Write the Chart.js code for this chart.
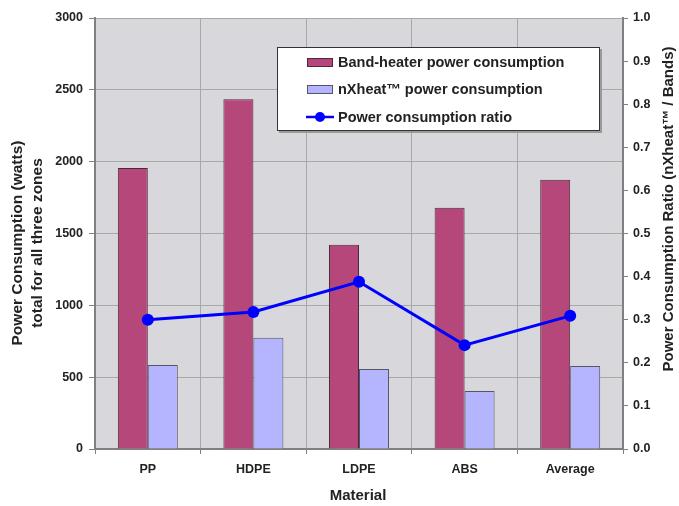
<!DOCTYPE html>
<html>
<head>
<meta charset="utf-8">
<style>
    html, body { margin: 0; padding: 0; background: #ffffff; }
    #wrap { width: 679px; height: 506px; position: relative; }
</style>
<script src="https://cdn.jsdelivr.net/npm/chart.js@4/dist/chart.umd.min.js"></script>
</head>
<body>
<div id="wrap"><canvas id="powerChart" width="679" height="506"></canvas></div>
<script>
const materials = ['PP', 'HDPE', 'LDPE', 'ABS', 'Average'];
const bandHeaterWatts = [1956, 2435, 1422, 1679, 1874];
const nxheatWatts = [585, 775, 557, 403, 578];
const powerRatio = [0.30, 0.318, 0.388, 0.241, 0.309];

const seriesNames = ['Band-heater power consumption', 'nXheat\u2122 power consumption', 'Power consumption ratio'];
const leftTitle = ['Power Consumption (watts)', 'total for all three zones'];
const rightTitle = 'Power Consumption Ratio (nXheat\u2122 / Bands)';
const xTitle = 'Material';

(function () {
    const FONT = '"Liberation Sans", Arial, sans-serif';
    const BAND_COLOR = 'rgb(182, 71, 122)';
    const NX_COLOR = 'rgb(180, 180, 255)';
    const LINE_COLOR = '#0000ff';

    Chart.defaults.font.family = FONT;
    Chart.defaults.font.weight = 'bold';
    Chart.defaults.color = '#222222';

    // plot background + outer titles + legend box
    const decorations = {
        id: 'decorations',
        beforeDraw: function (chart) {
            const ctx = chart.ctx;
            const a = chart.chartArea;
            ctx.save();
            ctx.fillStyle = '#d8d8dc';
            ctx.fillRect(a.left, a.top, a.right - a.left, a.bottom - a.top);
            ctx.restore();
        },
        afterDraw: function (chart) {
            const ctx = chart.ctx;
            ctx.save();
            ctx.fillStyle = '#222222';
            ctx.font = 'bold 15px ' + FONT;
            ctx.textAlign = 'center';
            ctx.textBaseline = 'middle';

            ctx.fillText(xTitle, 358, 496);

            ctx.save();
            ctx.translate(18, 243);
            ctx.rotate(-Math.PI / 2);
            ctx.font = 'bold 15.5px ' + FONT;
            ctx.fillText(leftTitle[0], 0, 0);
            ctx.fillText(leftTitle[1], 0, 20);
            ctx.restore();

            ctx.save();
            ctx.translate(669, 209);
            ctx.rotate(-Math.PI / 2);
            ctx.fillText(rightTitle, 0, 0);
            ctx.restore();

            // legend
            const lx = 277, ly = 47, lw = 323, lh = 84;
            ctx.fillStyle = '#9a9a9a';
            ctx.fillRect(lx + 2, ly + 2, lw, lh);
            ctx.fillStyle = '#ffffff';
            ctx.fillRect(lx, ly, lw, lh);
            ctx.strokeStyle = '#333333';
            ctx.lineWidth = 1;
            ctx.strokeRect(lx + 0.5, ly + 0.5, lw - 1, lh - 1);

            const rows = [62, 89, 117];
            ctx.textAlign = 'left';
            ctx.font = 'bold 14.5px ' + FONT;

            ctx.fillStyle = BAND_COLOR;
            ctx.fillRect(307, rows[0] - 4, 26, 9);
            ctx.strokeStyle = '#4a2a3a';
            ctx.strokeRect(307.5, rows[0] - 3.5, 25, 8);

            ctx.fillStyle = NX_COLOR;
            ctx.fillRect(307, rows[1] - 4, 26, 9);
            ctx.strokeStyle = '#555566';
            ctx.strokeRect(307.5, rows[1] - 3.5, 25, 8);

            ctx.strokeStyle = LINE_COLOR;
            ctx.lineWidth = 2.5;
            ctx.beginPath();
            ctx.moveTo(306, rows[2]);
            ctx.lineTo(334, rows[2]);
            ctx.stroke();
            ctx.fillStyle = LINE_COLOR;
            ctx.beginPath();
            ctx.arc(320, rows[2], 5, 0, Math.PI * 2);
            ctx.fill();

            ctx.fillStyle = '#222222';
            rows.forEach(function (y, i) {
                ctx.fillText(seriesNames[i], 338, y + 1);
            });
            ctx.restore();
        }
    };

    new Chart(document.getElementById('powerChart'), {
        type: 'bar',
        data: {
            labels: materials,
            datasets: [{
                label: seriesNames[0],
                data: bandHeaterWatts,
                backgroundColor: BAND_COLOR,
                borderColor: '#4a2a3a',
                borderWidth: 1,
                yAxisID: 'y',
                order: 1,
                categoryPercentage: 0.568,
                barPercentage: 1.0
            }, {
                label: seriesNames[1],
                data: nxheatWatts,
                backgroundColor: NX_COLOR,
                borderColor: '#555566',
                borderWidth: 1,
                yAxisID: 'y',
                order: 1,
                categoryPercentage: 0.568,
                barPercentage: 1.0
            }, {
                type: 'line',
                label: seriesNames[2],
                data: powerRatio,
                borderColor: LINE_COLOR,
                backgroundColor: LINE_COLOR,
                borderWidth: 3,
                pointRadius: 6,
                pointBackgroundColor: LINE_COLOR,
                pointBorderWidth: 0,
                tension: 0,
                yAxisID: 'y1',
                order: 0
            }]
        },
        options: {
            responsive: false,
            animation: false,
            layout: {
                padding: { top: 18, left: 0, right: 0, bottom: 0 }
            },
            plugins: {
                legend: { display: false },
                tooltip: { enabled: false }
            },
            scales: {
                x: {
                    afterFit: function (scale) { scale.height = 57; },
                    grid: {
                        offset: true,
                        color: '#a8a8a8',
                        tickColor: '#808080',
                        tickLength: 5,
                        drawOnChartArea: true
                    },
                    border: { color: '#808080', width: 2 },
                    ticks: {
                        padding: 8,
                        font: { size: 12.5, weight: 'bold' },
                        color: '#222222',
                        maxRotation: 0
                    }
                },
                y: {
                    position: 'left',
                    min: 0,
                    max: 3000,
                    afterFit: function (scale) { scale.width = 95; },
                    grid: {
                        color: '#a8a8a8',
                        tickColor: '#808080',
                        tickLength: 6
                    },
                    border: { color: '#808080', width: 2 },
                    ticks: {
                        stepSize: 500,
                        padding: 6,
                        font: { size: 12.5, weight: 'bold' },
                        color: '#222222',
                        callback: function (value) {
                            return String(value);
                        }
                    }
                },
                y1: {
                    position: 'right',
                    min: 0,
                    max: 1,
                    afterFit: function (scale) { scale.width = 56; },
                    grid: {
                        drawOnChartArea: false,
                        tickColor: '#808080',
                        tickLength: 5
                    },
                    border: { color: '#808080', width: 2 },
                    ticks: {
                        stepSize: 0.1,
                        padding: 5,
                        font: { size: 12.5, weight: 'bold' },
                        color: '#222222',
                        callback: function (value) {
                            return Number(value).toFixed(1);
                        }
                    }
                }
            }
        },
        plugins: [decorations]
    });
})();
</script>
</body>
</html>
